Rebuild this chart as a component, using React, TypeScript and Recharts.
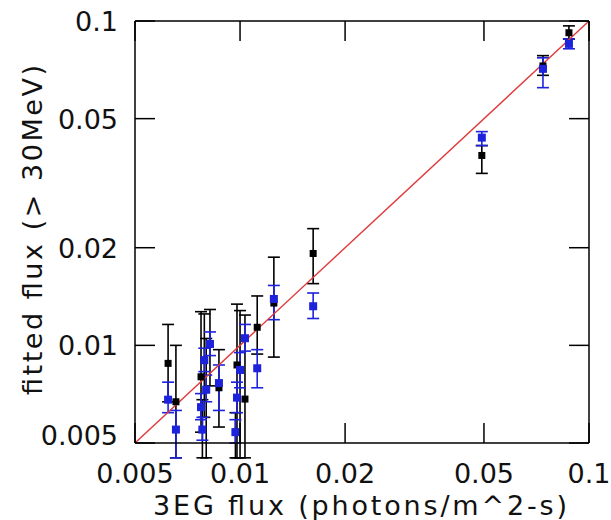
import { ScatterChart, Scatter, XAxis, YAxis, ErrorBar, ReferenceLine } from 'recharts';

const FONT = '"DejaVu Sans", Verdana, sans-serif';

// 3EG catalogue flux of each source
const sourceFlux = [0.00622, 0.00655, 0.00773, 0.0078, 0.0079, 0.008, 0.0082, 0.0087, 0.0097, 0.0098, 0.01, 0.01033, 0.0112, 0.0125, 0.0162, 0.0493, 0.0738, 0.0876];

// black series (fit + error range)
const blackFit = [0.0088, 0.0067, 0.008, 0.0055, 0.009, 0.0073, 0.0101, 0.0074, 0.0054, 0.0087, 0.0084, 0.00683, 0.01137, 0.0135, 0.0192, 0.0385, 0.0727, 0.092];
const blackLow = [0.0067, 0.0045, 0.0054, 0.0045, 0.006, 0.0045, 0.0075, 0.0056, 0.0045, 0.0045, 0.0045, 0.0045, 0.0094, 0.0092, 0.0155, 0.0339, 0.068, 0.088];
const blackHigh = [0.0116, 0.01, 0.0127, 0.0068, 0.0125, 0.0105, 0.0129, 0.0097, 0.0062, 0.0134, 0.0128, 0.0124, 0.0142, 0.0187, 0.0229, 0.0413, 0.0782, 0.0966];

// blue series
const blueFit = [0.0068, 0.0055, 0.00645, 0.0055, 0.009, 0.0073, 0.0101, 0.00765, 0.0054, 0.0069, 0.0084, 0.01052, 0.0085, 0.0139, 0.0132, 0.0437, 0.0712, 0.085];
const blueLow = [0.0062, 0.0045, 0.0059, 0.0051, 0.0083, 0.0067, 0.0093, 0.0063, 0.005, 0.0062, 0.0074, 0.0096, 0.0074, 0.012, 0.0121, 0.0413, 0.0623, 0.0821];
const blueHigh = [0.0077, 0.0063, 0.0071, 0.006, 0.0098, 0.0081, 0.011, 0.0087, 0.0059, 0.0077, 0.0095, 0.0116, 0.0097, 0.0153, 0.0145, 0.0456, 0.077, 0.088];

const fluxTicks = [0.005, 0.01, 0.02, 0.05, 0.1];
const DOMAIN: [number, number] = [0.005, 0.1];

const blackData = sourceFlux.map((x, i) => ({ x, y: blackFit[i], err: [blackFit[i] - blackLow[i], blackHigh[i] - blackFit[i]] }));
const blueData = sourceFlux.map((x, i) => ({ x, y: blueFit[i], err: [blueFit[i] - blueLow[i], blueHigh[i] - blueFit[i]] }));

const TICK_LEN = 20;
const BLUE = '#1d22dc';

const BottomTick = ({ x, y, payload }: any) => (
  <g>
    <line x1={x} y1={y} x2={x} y2={y - TICK_LEN} stroke="#000" strokeWidth={1.5} />
    <text x={x} y={y + 40} textAnchor="middle" fontSize={27} fontFamily={FONT} fill="#111">{String(payload.value)}</text>
  </g>
);

const LeftTick = ({ x, y, payload }: any) => (
  <g>
    <line x1={x} y1={y} x2={x + TICK_LEN} y2={y} stroke="#000" strokeWidth={1.5} />
    <text x={x - 17} y={payload.value === 0.005 ? y - 8 : y} dy={10} textAnchor="end" fontSize={27} fontFamily={FONT} fill="#111">{String(payload.value)}</text>
  </g>
);

const TopTick = ({ x, y }: any) => <line x1={x} y1={y} x2={x} y2={y + TICK_LEN} stroke="#000" strokeWidth={1.5} />;
const RightTick = ({ x, y }: any) => <line x1={x} y1={y} x2={x - TICK_LEN} y2={y} stroke="#000" strokeWidth={1.5} />;

const XTitle = () => (
  <text x={360} y={515} textAnchor="middle" fontSize={27} fontFamily={FONT} fill="#111" textLength={414} lengthAdjust="spacing">3EG flux (photons/m^2-s)</text>
);
const YTitle = () => (
  <text transform="translate(42,230) rotate(-90)" textAnchor="middle" fontSize={27} fontFamily={FONT} fill="#111" textLength={330} lengthAdjust="spacing">fitted flux (&gt; 30MeV)</text>
);

const blackSquare = (p: any) => <rect x={p.cx - 3.5} y={p.cy - 3.5} width={7} height={7} fill="#000" />;
const blueSquare = (p: any) => <rect x={p.cx - 4} y={p.cy - 4} width={8} height={8} fill={BLUE} />;

export default function App() {
  return (
    <div style={{ position: 'absolute', left: 0, top: 0, background: '#fff' }}>
      <ScatterChart width={611} height={520} margin={{ top: 1, right: 0, bottom: 0, left: 0 }}>
        <XAxis dataKey="x" type="number" scale="log" domain={DOMAIN} ticks={fluxTicks} allowDataOverflow
          height={77} tickSize={0} tickMargin={0} tick={<BottomTick />} axisLine={{ stroke: '#000', strokeWidth: 1.5 }}
          label={<XTitle />} />
        <XAxis xAxisId="top" orientation="top" dataKey="x" type="number" scale="log" domain={DOMAIN} ticks={fluxTicks} allowDataOverflow
          height={20} tickSize={0} tickMargin={0} tick={<TopTick />} axisLine={{ stroke: '#000', strokeWidth: 1.5 }} />
        <YAxis dataKey="y" type="number" scale="log" domain={DOMAIN} ticks={fluxTicks} allowDataOverflow
          width={135} tickSize={0} tickMargin={0} tick={<LeftTick />} axisLine={{ stroke: '#000', strokeWidth: 1.5 }}
          label={<YTitle />} />
        <YAxis yAxisId="right" orientation="right" dataKey="y" type="number" scale="log" domain={DOMAIN} ticks={fluxTicks} allowDataOverflow
          width={22} tickSize={0} tickMargin={0} tick={<RightTick />} axisLine={{ stroke: '#000', strokeWidth: 1.5 }} />
        <Scatter data={blackData} shape={blackSquare} isAnimationActive={false}>
          <ErrorBar dataKey="err" direction="y" width={6} stroke="#000" strokeWidth={1.6} />
        </Scatter>
        <Scatter data={blueData} shape={blueSquare} isAnimationActive={false}>
          <ErrorBar dataKey="err" direction="y" width={6} stroke={BLUE} strokeWidth={1.6} />
        </Scatter>
        <ReferenceLine segment={[{ x: 0.005, y: 0.005 }, { x: 0.1, y: 0.1 }]} stroke="#e0393b" strokeWidth={1.4} />
      </ScatterChart>
    </div>
  );
}
